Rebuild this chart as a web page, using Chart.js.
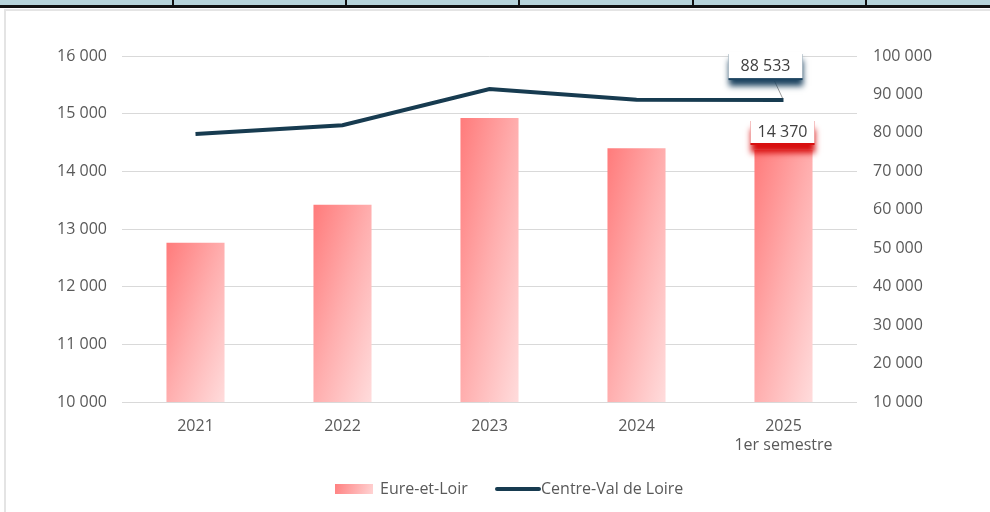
<!DOCTYPE html>
<html>
<head>
<meta charset="utf-8">
<script src="https://cdn.jsdelivr.net/npm/chart.js@4.4.1/dist/chart.umd.min.js"></script>
<style>
  html, body { margin: 0; padding: 0; background: #fff; }
  #wrap { position: relative; width: 990px; height: 512px; overflow: hidden; }
  #strip { position: absolute; left: 0; top: 0; width: 990px; height: 5px; background: #b6d3da; }
  #rule { position: absolute; left: 0; top: 5px; width: 990px; height: 3px; background: #111; }
  .sep { position: absolute; top: 0; width: 2px; height: 6px; background: #111; }
  #panel { position: absolute; left: 4px; top: 9px; width: 990px; height: 510px; border-left: 2px solid #e4e4e4; border-top: 2px solid #e4e4e4; background: #fff; }
  #chart { position: absolute; left: 0; top: 0; }
</style>
</head>
<body>
<div id="wrap">
  <div id="strip"></div>
  <div id="rule"></div>
  <div class="sep" style="left:172px"></div>
  <div class="sep" style="left:345px"></div>
  <div class="sep" style="left:518px"></div>
  <div class="sep" style="left:692px"></div>
  <div class="sep" style="left:865px"></div>
  <div id="panel"></div>
  <canvas id="chart" width="990" height="512"></canvas>
</div>
<script>
  // données
  const years = ['2021', '2022', '2023', '2024', ['2025', '1er semestre']];
  const eureEtLoir = [12760, 13420, 14925, 14400, 14370];
  const centreVdl = [79700, 82000, 91400, 88600, 88533];
  const leftTicks = [10000, 16000, 1000];
  const rightTicks = [10000, 100000, 10000];

  const FONT = '"Open Sans", "Liberation Sans", sans-serif';
  const GREY = '#595959';
  const NAVY = '#173b50';
  const FS = 16;

  const fmt = (n) => String(n).replace(/\B(?=(\d{3})+(?!\d))/g, ' ');

  // dégradé diagonal façon Excel, calculé pour chaque barre
  const barFill = (c) => {
    const chart = c.chart;
    if (!chart.chartArea || c.dataIndex === undefined) return '#ffa0a0';
    const xs = chart.scales.x, ys = chart.scales.y;
    const cx = xs.getPixelForValue(c.dataIndex);
    const w = xs.width / years.length * 0.395;
    const top = ys.getPixelForValue(eureEtLoir[c.dataIndex]);
    const base = ys.getPixelForValue(leftTicks[0]);
    const h = Math.max(1, base - top);
    const left = cx - w / 2;
    const k = 2 * w * h / (w * w + h * h);
    const g = chart.ctx.createLinearGradient(left, top, left + k * h, top + k * w);
    g.addColorStop(0, '#ff7b7b');
    g.addColorStop(0.5, '#ffaeae');
    g.addColorStop(1, '#ffdcdc');
    return g;
  };

  const drawBox = (ctx, text, cx, cy, w, h, shadow, drop) => {
    ctx.save();
    ctx.shadowColor = shadow;
    ctx.shadowBlur = 6;
    ctx.shadowOffsetY = drop;
    ctx.fillStyle = shadow;
    ctx.fillRect(cx - w / 2, cy - h / 2 + 2, w, h);
    ctx.restore();
    ctx.save();
    ctx.fillStyle = '#fff';
    ctx.fillRect(cx - w / 2, cy - h / 2, w, h);
    ctx.fillStyle = '#404040';
    ctx.font = '16px ' + FONT;
    ctx.textAlign = 'center';
    ctx.textBaseline = 'middle';
    ctx.fillText(text, cx, cy + 1);
    ctx.restore();
  };

  const valueLabels = {
    id: 'valueLabels',
    afterDatasetsDraw(chart) {
      const ctx = chart.ctx;
      const last = years.length - 1;
      const pt = chart.getDatasetMeta(1).data[last];
      const bar = chart.getDatasetMeta(0).data[last];
      // trait de rappel
      ctx.save();
      ctx.strokeStyle = '#9a9a9a';
      ctx.lineWidth = 1;
      ctx.beginPath();
      ctx.moveTo(pt.x - 9, pt.y - 19);
      ctx.lineTo(pt.x - 1, pt.y - 2);
      ctx.stroke();
      ctx.restore();
      drawBox(ctx, fmt(centreVdl[last]), pt.x - 18, pt.y - 35, 74, 26, '#1d4461', 6);
      drawBox(ctx, fmt(eureEtLoir[last]), bar.x - 1, bar.y - 19, 64, 24, '#d81010', 8);
    }
  };

  const legendDraw = {
    id: 'legendDraw',
    afterDraw(chart) {
      const ctx = chart.ctx;
      const y = 489;
      ctx.save();
      const g = ctx.createLinearGradient(335, 484, 373, 495);
      g.addColorStop(0, '#ff8080');
      g.addColorStop(1, '#ffd4d4');
      ctx.fillStyle = g;
      ctx.fillRect(335, 484, 38, 10);
      ctx.fillStyle = GREY;
      ctx.font = FS + 'px ' + FONT;
      ctx.textBaseline = 'middle';
      ctx.fillText('Eure-et-Loir', 380, y);
      ctx.strokeStyle = NAVY;
      ctx.lineWidth = 4;
      ctx.lineCap = 'round';
      ctx.beginPath();
      ctx.moveTo(497, y);
      ctx.lineTo(539, y);
      ctx.stroke();
      ctx.fillText('Centre-Val de Loire', 541, y);
      ctx.restore();
    }
  };

  new Chart(document.getElementById('chart'), {
    type: 'bar',
    data: {
      labels: years,
      datasets: [
        {
          label: 'Eure-et-Loir',
          data: eureEtLoir,
          yAxisID: 'y',
          backgroundColor: barFill,
          categoryPercentage: 1,
          barPercentage: 0.395,
          order: 2
        },
        {
          type: 'line',
          label: 'Centre-Val de Loire',
          data: centreVdl,
          yAxisID: 'y1',
          borderColor: NAVY,
          borderWidth: 4,
          pointRadius: 0,
          tension: 0,
          order: 1
        }
      ]
    },
    options: {
      responsive: false,
      animation: false,
      layout: { padding: { top: 56, left: 0, right: 0, bottom: 0 } },
      plugins: { legend: { display: false }, tooltip: { enabled: false } },
      scales: {
        x: {
          grid: { display: false, drawTicks: false },
          border: { display: false },
          ticks: { color: GREY, font: { family: FONT, size: FS }, padding: 15, maxRotation: 0 },
          afterFit: (s) => { s.height = 110; }
        },
        y: {
          position: 'left',
          min: leftTicks[0], max: leftTicks[1],
          ticks: { stepSize: leftTicks[2], color: GREY, font: { family: FONT, size: FS }, padding: 15, callback: (v) => fmt(v) },
          grid: { color: '#d9d9d9', drawTicks: false },
          border: { display: false },
          afterFit: (s) => { s.width = 122; }
        },
        y1: {
          position: 'right',
          min: rightTicks[0], max: rightTicks[1],
          ticks: { stepSize: rightTicks[2], color: GREY, font: { family: FONT, size: FS }, padding: 16, callback: (v) => fmt(v) },
          grid: { display: false, drawTicks: false },
          border: { display: false },
          afterFit: (s) => { s.width = 133; }
        }
      }
    },
    plugins: [valueLabels, legendDraw]
  });
</script>
</body>
</html>
